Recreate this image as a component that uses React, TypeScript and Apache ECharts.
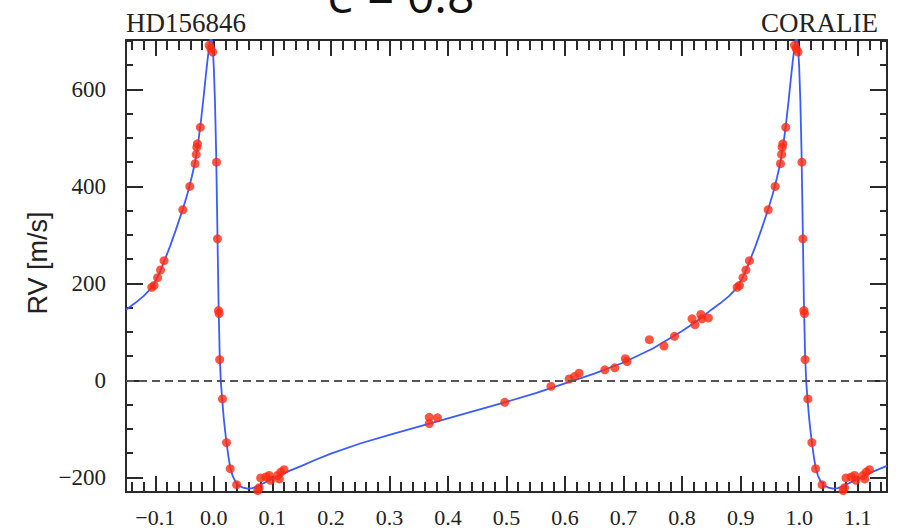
import React, { useEffect, useRef } from "react";
import * as echarts from "echarts";

// Keplerian model curve, one period from -0.15 to 0.85 (repeated +1 up to 1.15)
const modelPhase = [
  -0.15, -0.135, -0.12, -0.108, -0.1, -0.092, -0.084, -0.075, -0.065, -0.053,
  -0.045, -0.038, -0.032, -0.027, -0.022, -0.018, -0.014, -0.011, -0.008, -0.006,
  -0.004, -0.002, 0.0, 0.002, 0.004, 0.006, 0.008, 0.01, 0.012, 0.0145,
  0.017, 0.0195, 0.022, 0.025, 0.028, 0.032, 0.037, 0.043, 0.05, 0.058,
  0.066, 0.075, 0.085, 0.095, 0.11, 0.13, 0.15, 0.175, 0.2, 0.25,
  0.3, 0.35, 0.4, 0.45, 0.5, 0.55, 0.6, 0.65, 0.7, 0.75,
  0.8, 0.825, 0.85,
];
const modelRV = [
  146, 159, 174, 189, 204, 224, 248, 276, 310, 353,
  385, 418, 450, 487, 535, 578, 625, 658, 688, 703,
  706, 690, 645, 575, 470, 320, 165, 55, -3, -42,
  -78, -106, -131, -157, -179, -196, -209, -217, -221, -223,
  -222, -218, -212, -206, -197, -186, -176, -163, -151, -130,
  -112, -95, -78, -61, -44, -26, -6, 14, 37, 66,
  102, 122, 146,
];

// CORALIE measurements, orbital phase in [0, 1)
const obsPhase = [
  0.0046, 0.0063, 0.008, 0.009, 0.01, 0.0148, 0.0217, 0.028, 0.039, 0.075,
  0.0775, 0.08, 0.089, 0.0946, 0.097, 0.109, 0.112, 0.1145, 0.12,
  0.368, 0.368, 0.382, 0.497, 0.576, 0.607, 0.616, 0.624, 0.668, 0.685,
  0.703, 0.706, 0.744, 0.769, 0.787, 0.817, 0.822, 0.832, 0.834, 0.845,
  0.894, 0.898, 0.904, 0.909, 0.915, 0.947, 0.959, 0.968, 0.97, 0.971,
  0.972, 0.977, 0.992, 0.995, 0.998,
];
const obsRV = [
  450, 292, 144, 138, 43, -38, -128, -182, -215, -227,
  -221, -201, -199, -196, -206, -196, -203, -189, -184,
  -76, -89, -77, -45, -12, 3, 8, 15, 22, 26,
  45, 39, 84, 71, 91, 127, 115, 136, 127, 129,
  192, 196, 212, 228, 247, 352, 400, 447, 466, 481,
  488, 522, 691, 684, 677,
];

const xLabelTicks = [-0.1, 0.0, 0.1, 0.2, 0.3, 0.4, 0.5, 0.6, 0.7, 0.8, 0.9, 1.0, 1.1];
const yLabelTicks = [-200, 0, 200, 400, 600];
const yMinorTicks = [-150, -100, -50, 50, 100, 150, 250, 300, 350, 450, 500, 550, 650, 700];

const X_MIN = -0.15;
const X_MAX = 1.15;
const Y_MIN = -230;
const Y_MAX = 702;

const xMinorTicks: number[] = [];
for (let i = -7; i <= 57; i++) {
  if (i % 5 !== 0) xMinorTicks.push(Math.round(i * 2) / 100);
}

const AXIS_COLOR = "#2a2a2a";
const fmtX = (v: number) => (v < 0 ? "\u2212" + Math.abs(v).toFixed(1) : v.toFixed(1));
const fmtY = (v: number) => (v < 0 ? "\u2212" + Math.abs(v) : String(v));

export default function App() {
  const ref = useRef<HTMLDivElement>(null);

  useEffect(() => {
    if (!ref.current) return;
    const chart = echarts.init(ref.current, undefined, { renderer: "svg" });

    const curve: number[][] = [];
    modelPhase.forEach((p, i) => curve.push([p, modelRV[i]]));
    modelPhase.forEach((p, i) => {
      if (p > X_MIN && p + 1 <= X_MAX + 1e-9) curve.push([p + 1, modelRV[i]]);
    });

    const pts: number[][] = [];
    obsPhase.forEach((p, i) => {
      pts.push([p, obsRV[i]]);
      if (p - 1 >= X_MIN) pts.push([p - 1, obsRV[i]]);
      if (p + 1 <= X_MAX) pts.push([p + 1, obsRV[i]]);
    });

    const lineStyle = { color: AXIS_COLOR, width: 2 };
    const labelFont = {
      fontFamily: "Liberation Serif",
      fontSize: 22,
      lineHeight: 18,
      color: "#222",
    };

    const xAx = (
      position: string,
      ticks: number[],
      len: number,
      showLine: boolean,
      showLabel: boolean
    ) => ({
      type: "value",
      min: X_MIN,
      max: X_MAX,
      position,
      axisLine: { show: showLine, onZero: false, lineStyle },
      axisTick: { show: true, inside: true, length: len, customValues: ticks, lineStyle },
      axisLabel: showLabel
        ? { show: true, customValues: ticks, formatter: fmtX, margin: 16, ...labelFont }
        : { show: false },
      splitLine: { show: false },
    });
    const yAx = (
      position: string,
      ticks: number[],
      len: number,
      showLine: boolean,
      showLabel: boolean
    ) => ({
      type: "value",
      min: Y_MIN,
      max: Y_MAX,
      position,
      axisLine: { show: showLine, onZero: false, lineStyle },
      axisTick: { show: true, inside: true, length: len, customValues: ticks, lineStyle },
      axisLabel: showLabel
        ? { show: true, customValues: ticks, formatter: fmtY, margin: 20, ...labelFont, fontSize: 23 }
        : { show: false },
      splitLine: { show: false },
    });

    chart.setOption({
      animation: false,
      grid: { left: 126, top: 40, width: 761, height: 452, outerBoundsMode: "none" },
      xAxis: [
        xAx("bottom", xLabelTicks, 16, true, true),
        xAx("bottom", xMinorTicks, 10, false, false),
        xAx("top", xLabelTicks, 16, true, false),
        xAx("top", xMinorTicks, 10, false, false),
      ],
      yAxis: [
        yAx("left", yLabelTicks, 17, true, true),
        yAx("left", yMinorTicks, 7, false, false),
        yAx("right", yLabelTicks, 17, true, false),
        yAx("right", yMinorTicks, 7, false, false),
      ],
      series: [
        {
          type: "line",
          xAxisIndex: 0,
          yAxisIndex: 0,
          data: curve,
          showSymbol: false,
          symbol: "none",
          lineStyle: { color: "#3a5cff", width: 1.8 },
          silent: true,
          z: 2,
          markLine: {
            silent: true,
            symbol: ["none", "none"],
            label: { show: false },
            lineStyle: { color: "#555", type: [8, 5], width: 2 },
            data: [{ yAxis: 0 }],
          },
        },
        {
          type: "scatter",
          xAxisIndex: 0,
          yAxisIndex: 0,
          data: pts,
          symbol: "circle",
          symbolSize: 9,
          itemStyle: { color: "#ff2a12" },
          silent: true,
          z: 3,
        },
      ],
      graphic: [
        {
          type: "text",
          x: 401,
          y: -6,
          style: {
            text: "e = 0.8",
            fontFamily: "Open Sans",
            fontSize: 48,
            fill: "#111",
            align: "center",
            verticalAlign: "middle",
          },
        },
        {
          type: "text",
          x: 126,
          y: 22.5,
          style: {
            text: "HD156846",
            fontFamily: "Liberation Serif",
            fontSize: 27,
            fill: "#222",
            align: "left",
            verticalAlign: "middle",
          },
        },
        {
          type: "text",
          x: 878,
          y: 22.5,
          style: {
            text: "CORALIE",
            fontFamily: "Liberation Serif",
            fontSize: 27,
            fill: "#222",
            align: "right",
            verticalAlign: "middle",
          },
        },
        {
          type: "text",
          x: 38,
          y: 263,
          rotation: Math.PI / 2,
          style: {
            text: "RV [m/s]",
            fontFamily: "Liberation Sans",
            fontSize: 27,
            fill: "#222",
            align: "center",
            verticalAlign: "middle",
          },
        },
      ],
    });

    return () => chart.dispose();
  }, []);

  return (
    <div
      ref={ref}
      style={{ position: "fixed", left: 0, top: 0, width: 902, height: 530, background: "#fff" }}
    />
  );
}
